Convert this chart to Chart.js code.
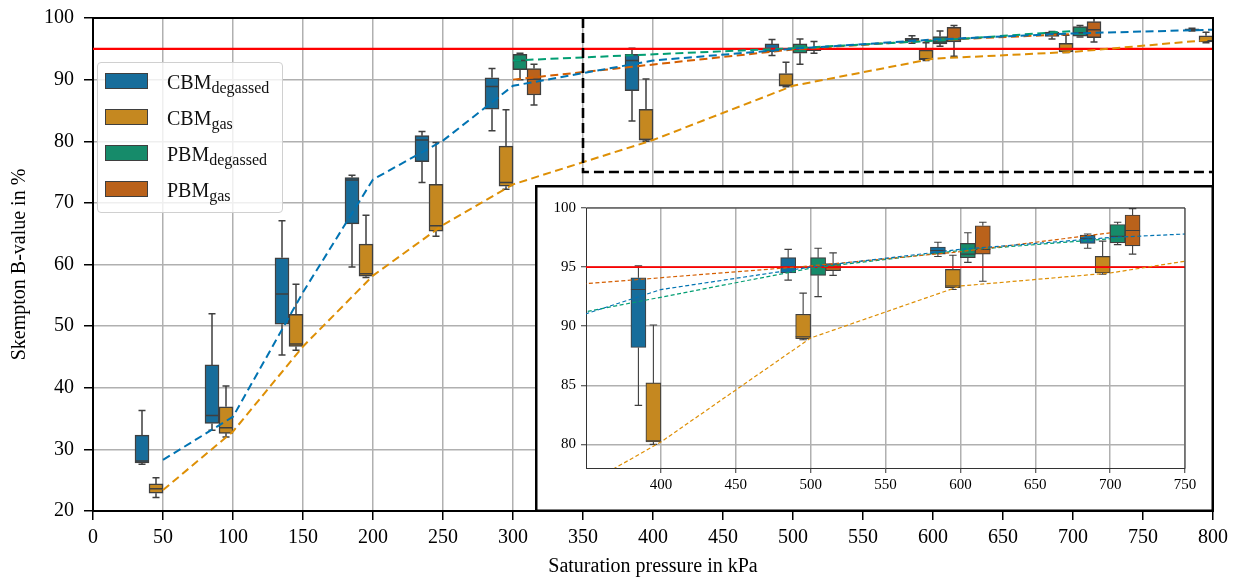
<!DOCTYPE html>
<html>
<head>
<meta charset="utf-8">
<script src="https://cdn.jsdelivr.net/npm/chart.js@4.4.1/dist/chart.umd.min.js"></script>
<style>
  body { margin: 0; background: #fff; }
  #wrap { position: relative; width: 1234px; height: 579px; font-family: "Liberation Serif", serif; }
  #main { position: absolute; left: 0; top: 0; }
  #inset { position: absolute; left: 535px; top: 185px; }
  #legend {
    position: absolute; left: 97px; top: 62px; width: 184px; height: 149px;
    background: rgba(255,255,255,0.8); border: 1px solid #d0d0d0; border-radius: 4px;
  }
  .row { position: absolute; left: 0; height: 16px; width: 100%; }
  .patch { position: absolute; left: 7px; top: 0; width: 41px; height: 14px; border: 1px solid #3f3f3f; }
  .lab { position: absolute; left: 69px; top: -1px; font-size: 20px; line-height: 20px; white-space: nowrap; color: #111; }
  .lab sub { font-size: 16px; vertical-align: -4px; }
</style>
</head>
<body>
<div id="wrap">
  <canvas id="main" width="1234" height="579"></canvas>
  <canvas id="inset" width="679" height="327"></canvas>
  <div id="legend"></div>
</div>
<script>
// pressures in kPa
const pressures = [50, 100, 150, 200, 250, 300, 400, 500, 600, 700, 800];
const pbmPressures = [300, 500, 600, 700];

// box stats per pressure: [lower whisker, q1, median, q3, upper whisker]
const cbmDegassedBox = [
  [27.6, 27.8, 28.1, 32.3, 36.3],
  [33.1, 34.2, 35.5, 43.7, 52.0],
  [45.3, 50.3, 55.2, 61.1, 67.1],
  [59.6, 66.6, 73.7, 74.1, 74.5],
  [73.3, 76.7, 80.2, 80.9, 81.6],
  [81.7, 85.2, 88.9, 90.3, 91.8],
  [83.3, 88.2, 93.1, 94.1, 95.1],
  [93.9, 94.5, 95.0, 95.8, 96.5],
  [95.9, 96.1, 96.4, 96.7, 97.1],
  [96.6, 97.0, 97.4, 97.7, 97.8],
  [97.9, 98.0, 98.1, 98.25, 98.35]
];
const cbmGasBox = [
  [22.2, 22.9, 23.6, 24.4, 25.4],
  [32.0, 32.6, 33.5, 36.9, 40.3],
  [46.1, 46.7, 47.1, 51.9, 56.8],
  [57.9, 58.1, 58.5, 63.3, 68.0],
  [64.6, 65.4, 66.3, 73.0, 79.8],
  [72.2, 72.7, 73.3, 79.2, 85.1],
  [80.0, 80.2, 80.3, 85.2, 90.1],
  [88.85, 88.95, 89.1, 91.0, 92.8],
  [93.1, 93.25, 93.4, 94.8, 96.0],
  [94.4, 94.5, 95.0, 95.9, 97.2],
  [96.0, 96.1, 96.3, 97.1, 97.7]
];
const pbmDegassedBox = [
  [90.0, 91.6, 93.1, 94.1, 94.3],
  [92.5, 94.3, 95.0, 95.8, 96.6],
  [95.4, 95.8, 96.1, 97.0, 97.9],
  [96.9, 97.05, 97.6, 98.6, 98.8]
];
const pbmGasBox = [
  [85.9, 87.5, 90.05, 91.8, 92.5],
  [94.3, 94.7, 95.0, 95.3, 96.2],
  [93.8, 96.1, 96.5, 98.5, 98.8],
  [96.1, 96.8, 98.1, 99.4, 99.95]
];

// dashed trend lines
const cbmDegassedTrend = [28.3, 35.3, 55.5, 73.8, 80.1, 89.0, 93.1, 95.0, 96.5, 97.5, 98.1];
const cbmGasTrend = [23.4, 32.9, 46.7, 58.2, 66.4, 73.0, 80.2, 89.0, 93.4, 94.5, 96.5];
const pbmDegassedTrend = [93.1, 95.1, 96.3, 97.9];
const pbmGasTrend = [90.0, 94.9, 96.4, 97.4];

const threshold = 95;
const zoomX = [350, 800];
const zoomY = [75, 100];
const insetXTicks = [400, 450, 500, 550, 600, 650, 700, 750];
const insetYTicks = [80, 85, 90, 95, 100];

const series = [
  { name: 'CBM', sub: 'degassed', xs: pressures, box: cbmDegassedBox, trend: cbmDegassedTrend, fill: '#176D9B', line: '#0173B2', shift: -15 },
  { name: 'CBM', sub: 'gas', xs: pressures, box: cbmGasBox, trend: cbmGasTrend, fill: '#C58820', line: '#DE8F05', shift: -5 },
  { name: 'PBM', sub: 'degassed', xs: pbmPressures, box: pbmDegassedBox, trend: pbmDegassedTrend, fill: '#168B6A', line: '#029E73', shift: 5 },
  { name: 'PBM', sub: 'gas', xs: pbmPressures, box: pbmGasBox, trend: pbmGasTrend, fill: '#BA621B', line: '#D55E00', shift: 15 }
];

Chart.defaults.font.family = '"Liberation Serif", serif';
Chart.defaults.color = '#000';

// whiskers + median drawn right after each box dataset
const boxWhiskers = {
  id: 'boxWhiskers',
  afterDatasetDraw(chart, args) {
    const ds = chart.data.datasets[args.index];
    if (!ds.stats) return;
    const ctx = chart.ctx, a = chart.chartArea, y = chart.scales.y;
    ctx.save();
    ctx.beginPath();
    ctx.rect(a.left, a.top, a.right - a.left, a.bottom - a.top);
    ctx.clip();
    ctx.strokeStyle = ds.borderColor;
    ctx.lineWidth = ds.borderWidth;
    args.meta.data.forEach((bar, i) => {
      const [lo, q1, med, q3, hi] = ds.stats[i];
      const cx = bar.x, half = bar.width / 2, cap = bar.width / 4;
      ctx.beginPath();
      ctx.moveTo(cx, y.getPixelForValue(q3)); ctx.lineTo(cx, y.getPixelForValue(hi));
      ctx.moveTo(cx - cap, y.getPixelForValue(hi)); ctx.lineTo(cx + cap, y.getPixelForValue(hi));
      ctx.moveTo(cx, y.getPixelForValue(q1)); ctx.lineTo(cx, y.getPixelForValue(lo));
      ctx.moveTo(cx - cap, y.getPixelForValue(lo)); ctx.lineTo(cx + cap, y.getPixelForValue(lo));
      ctx.moveTo(cx - half, y.getPixelForValue(med)); ctx.lineTo(cx + half, y.getPixelForValue(med));
      ctx.stroke();
    });
    ctx.restore();
  }
};

// top + right spines
const frame = {
  id: 'frame',
  afterDatasetsDraw(chart, args, opts) {
    const ctx = chart.ctx, a = chart.chartArea;
    ctx.save();
    ctx.strokeStyle = opts.color;
    ctx.lineWidth = opts.width;
    ctx.beginPath();
    ctx.moveTo(a.left, a.top); ctx.lineTo(a.right, a.top); ctx.lineTo(a.right, a.bottom);
    ctx.stroke();
    if (opts.outer) {
      ctx.lineWidth = 2.5;
      ctx.strokeStyle = '#000';
      ctx.strokeRect(1.25, 1.25, chart.width - 2.5, chart.height - 2.5);
    }
    ctx.restore();
  },
  beforeDraw(chart, args, opts) {
    if (!opts.outer) return;
    chart.ctx.save();
    chart.ctx.fillStyle = '#fff';
    chart.ctx.fillRect(0, 0, chart.width, chart.height);
    chart.ctx.restore();
  }
};

function buildDatasets(inset) {
  const out = [];
  series.forEach(s => {
    out.push({
      type: 'bar',
      data: s.xs.map((p, i) => ({ x: p + s.shift, y: [s.box[i][1], s.box[i][3]] })),
      stats: s.box,
      backgroundColor: s.fill,
      borderColor: '#3f3f3f',
      borderWidth: inset ? 1.1 : 1.5,
      borderSkipped: false,
      barThickness: inset ? 15 : 14,
      grouped: false,
      order: 5
    });
  });
  out.push({
    type: 'line',
    data: [{ x: inset ? 350 : 0, y: threshold }, { x: inset ? 750 : 800, y: threshold }],
    borderColor: '#ff0000',
    borderWidth: inset ? 1.6 : 2.2,
    pointRadius: 0,
    order: 3
  });
  series.forEach((s, k) => {
    // the inset swaps the two PBM trend colours
    let col = s.line;
    if (inset && k === 2) col = series[3].line;
    if (inset && k === 3) col = series[2].line;
    out.push({
      type: 'line',
      data: s.xs.map((p, i) => ({ x: p, y: s.trend[i] })),
      borderColor: col,
      borderWidth: inset ? 1.2 : 2,
      borderDash: inset ? [4, 2.5] : [8, 4.5],
      pointRadius: 0,
      tension: 0,
      order: 1
    });
  });
  if (!inset) {
    out.push({
      type: 'line',
      data: [{ x: zoomX[0], y: zoomY[1] }, { x: zoomX[0], y: zoomY[0] }, { x: zoomX[1], y: zoomY[0] }],
      borderColor: '#000',
      borderWidth: 2.6,
      borderDash: [10, 5],
      pointRadius: 0,
      order: 0
    });
  }
  return out;
}

new Chart(document.getElementById('main'), {
  type: 'bar',
  data: { datasets: buildDatasets(false) },
  options: {
    responsive: false,
    animation: false,
    layout: { padding: { top: 18, right: 21, left: 0, bottom: 0 } },
    plugins: { legend: { display: false }, tooltip: { enabled: false }, frame: { color: '#000', width: 2, outer: false } },
    scales: {
      x: {
        type: 'linear', min: 0, max: 800, offset: false,
        ticks: { stepSize: 50, font: { size: 20 }, padding: 6, maxRotation: 0 },
        grid: { color: '#b0b0b0', lineWidth: 1.5, offset: false, tickColor: '#000', tickLength: 9, tickWidth: 1.5 },
        border: { color: '#000', width: 2 },
        title: { display: true, text: 'Saturation pressure in kPa', font: { size: 20 }, padding: { top: 0, bottom: 0 } },
        afterFit: s => { s.height = 68; }
      },
      y: {
        min: 20, max: 100,
        ticks: { stepSize: 10, font: { size: 20 }, padding: 10 },
        grid: { color: '#b0b0b0', lineWidth: 1.5, tickColor: '#000', tickLength: 9, tickWidth: 1.5 },
        border: { color: '#000', width: 2 },
        title: { display: true, text: 'Skempton B-value in %', font: { size: 20 }, padding: { top: 8, bottom: 0 } },
        afterFit: s => { s.width = 93; s.paddingTop = 0; s.paddingBottom = 0; }
      }
    }
  },
  plugins: [boxWhiskers, frame]
});

new Chart(document.getElementById('inset'), {
  type: 'bar',
  data: { datasets: buildDatasets(true) },
  options: {
    responsive: false,
    animation: false,
    layout: { padding: { top: 23, right: 29, left: 0, bottom: 0 } },
    plugins: { legend: { display: false }, tooltip: { enabled: false }, frame: { color: '#333', width: 1, outer: true } },
    scales: {
      x: {
        type: 'linear', min: zoomX[0], max: 750, offset: false,
        afterBuildTicks: s => { s.ticks = insetXTicks.map(v => ({ value: v })); },
        ticks: { font: { size: 15 }, padding: 3, maxRotation: 0 },
        grid: { color: '#b0b0b0', lineWidth: 1.5, offset: false, tickColor: '#333', tickLength: 5, tickWidth: 1 },
        border: { color: '#333', width: 1 },
        afterFit: s => { s.height = 44; }
      },
      y: {
        min: 78, max: 100,
        afterBuildTicks: s => { s.ticks = insetYTicks.map(v => ({ value: v })); },
        ticks: { font: { size: 15 }, padding: 5 },
        grid: { color: '#b0b0b0', lineWidth: 1.5, tickColor: '#333', tickLength: 5, tickWidth: 1 },
        border: { color: '#333', width: 1 },
        afterFit: s => { s.width = 51; }
      }
    }
  },
  plugins: [boxWhiskers, frame]
});

// legend with subscripts
const legend = document.getElementById('legend');
series.forEach((s, i) => {
  const row = document.createElement('div');
  row.className = 'row';
  row.style.top = (10 + 36 * i) + 'px';
  row.innerHTML = '<span class="patch" style="background:' + s.fill + '"></span>' +
    '<span class="lab">' + s.name + '<sub>' + s.sub + '</sub></span>';
  legend.appendChild(row);
});
</script>
</body>
</html>
